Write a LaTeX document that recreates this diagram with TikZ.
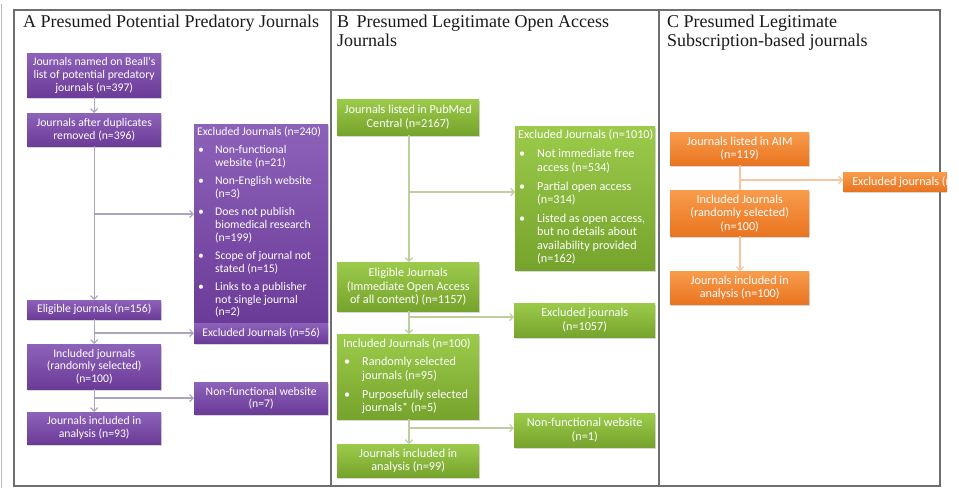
\documentclass[tikz,border=0pt]{standalone}
\usepackage{fontspec}
\setmainfont{Liberation Serif}
\newfontfamily\boxfamily{Carlito}
\usetikzlibrary{arrows.meta,shadows}
\definecolor{frameC}{HTML}{6E6E6E}
\definecolor{purT}{HTML}{8D62B9}
\definecolor{purB}{HTML}{6B3B98}
\definecolor{greT}{HTML}{9CCB4B}
\definecolor{greB}{HTML}{76A32C}
\definecolor{oraT}{HTML}{F89C4C}
\definecolor{oraB}{HTML}{E97420}
\definecolor{plineC}{HTML}{ADA3C0}
\definecolor{glineC}{HTML}{BCCF9C}
\definecolor{olineC}{HTML}{F7C6A0}
\definecolor{titleC}{HTML}{1A1A1A}
\newcommand\bul[1]{\makebox[#1][l]{\hspace{1pt}\textbullet}}
\newcommand\lst[2]{\makebox[#1][l]{\begin{tabular}{@{}l@{}}#2\end{tabular}}}
\begin{document}
\begin{tikzpicture}[x=1pt,y=-1pt,
  bx/.style={anchor=north west, inner xsep=2pt, inner ysep=1pt, text=white, align=center,
    font=\boxfamily\fontsize{11.7}{12.8}\selectfont,
    drop shadow={shadow xshift=1.2pt, shadow yshift=-1.5pt, opacity=.3}},
  lbx/.style={anchor=north west, inner sep=0pt, text=white,
    font=\boxfamily\fontsize{11.7}{12.8}\selectfont,
    drop shadow={shadow xshift=1.2pt, shadow yshift=-1.5pt, opacity=.3}},
  bigfont/.style={font=\boxfamily\fontsize{12.2}{13.5}\selectfont},
  pur/.style={bx, top color=purT, bottom color=purB},
  gre/.style={bx, bigfont, top color=greT, bottom color=greB},
  ora/.style={bx, bigfont, top color=oraT, bottom color=oraB},
  lpur/.style={lbx, top color=purT, bottom color=purB},
  lgre/.style={lbx, bigfont, top color=greT, bottom color=greB},
  sz/.style 2 args={minimum width=#1pt, minimum height=#2pt},
  con/.style={line width=1.2pt, -{Straight Barb[length=3.5pt,width=7pt]}},
  pl/.style={con, draw=plineC},
  gl/.style={con, draw=glineC},
  ol/.style={con, draw=olineC},
  ttl/.style={text=titleC, inner sep=0pt, font=\fontsize{18}{19.5}\selectfont},
]
\useasboundingbox (0,0) rectangle (959,488);
\fill[white] (0,0) rectangle (959,488);
% edge artifact
\draw[gray!55, line width=1.2pt] (1.5,4) -- (1.5,488);
% frame
\draw[frameC, line width=1.1pt] (14,10) rectangle (940,486);
\draw[frameC, line width=1.1pt] (331,10) -- (331,486);
\draw[frameC, line width=1.1pt] (659,10) -- (659,486);
% titles
\node[ttl, anchor=base west] (tA) at (23,27) {A Presumed Potential Predatory Journals};
\node[ttl, anchor=north west, align=left] (tB) at (337,14.5) {B\, Presumed Legitimate Open Access\\Journals};
\node[ttl, anchor=north west, align=left] (tC) at (667,14.5) {C Presumed Legitimate\\Subscription-based journals};

% Panel A
\node[pur, sz={134}{44}] (A1) at (27,53) {Journals named on Beall's\\list of potential predatory\\journals (n=397)};
\node[pur, sz={134}{33}] (A2) at (27,113) {Journals after duplicates\\removed (n=396)};
\node[lpur, sz={134}{198}] (A3) at (194,124) {\lst{128pt}{Excluded Journals (n=240)\\[5.3pt]
\bul{18pt}Non-functional\\ \hspace*{18pt}website (n=21)\\[5.3pt]
\bul{18pt}Non-English website\\ \hspace*{18pt}(n=3)\\[5.3pt]
\bul{18pt}Does not publish\\ \hspace*{18pt}biomedical research\\ \hspace*{18pt}(n=199)\\[5.3pt]
\bul{18pt}Scope of journal not\\ \hspace*{18pt}stated (n=15)\\[5.3pt]
\bul{18pt}Links to a publisher\\ \hspace*{18pt}not single journal\\ \hspace*{18pt}(n=2)}};
\node[pur, sz={134}{19}] (A4) at (27,300) {Eligible journals (n=156)};
\node[pur, sz={134}{20}] (A5) at (194,323) {Excluded Journals (n=56)};
\node[pur, sz={134}{45}] (A6) at (27,344) {Included journals\\(randomly selected)\\(n=100)};
\node[pur, sz={134}{32}] (A7) at (194,382) {Non-functional website\\(n=7)};
\node[pur, sz={134}{32}] (A8) at (27,412) {Journals included in\\analysis (n=93)};
\coordinate (a1) at (94,214);
\coordinate (a2) at (94,333);
\coordinate (a3) at (94,398);
\draw[pl] (A1.south) -- (A2.north);
\draw[pl] (A2.south) -- (A4.north);
\draw[pl] (a1) -- (a1 -| A3.west);
\draw[pl] (A4.south) -- (A6.north);
\draw[pl] (a2) -- (a2 -| A5.west);
\draw[pl] (A6.south) -- (A8.north);
\draw[pl] (a3) -- (a3 -| A7.west);

% Panel B
\node[gre, sz={142}{36}] (B1) at (337,99) {Journals listed in PubMed\\Central (n=2167)};
\node[lgre, sz={140}{144}] (B2) at (515,126) {\lst{134pt}{Excluded Journals (n=1010)\\[5.3pt]
\bul{19pt}Not immediate free\\ \hspace*{19pt}access (n=534)\\[5.3pt]
\bul{19pt}Partial open access\\ \hspace*{19pt}(n=314)\\[5.3pt]
\bul{19pt}Listed as open access,\\ \hspace*{19pt}but no details about\\ \hspace*{19pt}availability provided\\ \hspace*{19pt}(n=162)}};
\node[gre, sz={142}{49}] (B3) at (337,262) {Eligible Journals\\(Immediate Open Access\\of all content) (n=1157)};
\node[gre, sz={141}{34}] (B4) at (514,303) {Excluded journals\\(n=1057)};
\node[lgre, sz={142}{85}] (B5) at (337,334) {\lst{130pt}{Included Journals (n=100)\\[5.3pt]
\bul{19pt}Randomly selected\\ \hspace*{19pt}journals (n=95)\\[5.3pt]
\bul{19pt}Purposefully selected\\ \hspace*{19pt}journals* (n=5)}};
\node[gre, sz={141}{34}] (B6) at (514,413) {Non-functional website\\(n=1)};
\node[gre, sz={142}{33}] (B7) at (337,444) {Journals included in\\analysis (n=99)};
\coordinate (b1) at (409,192);
\coordinate (b2) at (409,317);
\coordinate (b3) at (409,428);
\draw[gl] (B1.south -| b1) -- (B3.north -| b1);
\draw[gl] (b1) -- (b1 -| B2.west);
\draw[gl] (B3.south -| b2) -- (B5.north -| b2);
\draw[gl] (b2) -- (b2 -| B4.west);
\draw[gl] (B5.south -| b3) -- (B7.north -| b3);
\draw[gl] (b3) -- (b3 -| B6.west);

% Panel C
\node[ora, sz={139}{33}] (C1) at (670,132) {Journals listed in AIM\\(n=119)};
\begin{scope}
\clip (0,0) rectangle (947,488);
\node[ora, sz={140}{19}] (C2) at (843,172) {Excluded journals (n=19)};
\end{scope}
\node[ora, sz={139}{46}] (C3) at (670,190) {Included Journals\\(randomly selected)\\(n=100)};
\node[ora, sz={139}{33}] (C4) at (670,271) {Journals included in\\analysis (n=100)};
\coordinate (c1) at (740,180);
\draw[olineC, line width=1.2pt] (C1.south -| c1) -- (C3.north -| c1);
\draw[ol] (c1) -- (c1 -| C2.west);
\draw[ol] (C3.south -| c1) -- (C4.north -| c1);
\end{tikzpicture}
\end{document}
